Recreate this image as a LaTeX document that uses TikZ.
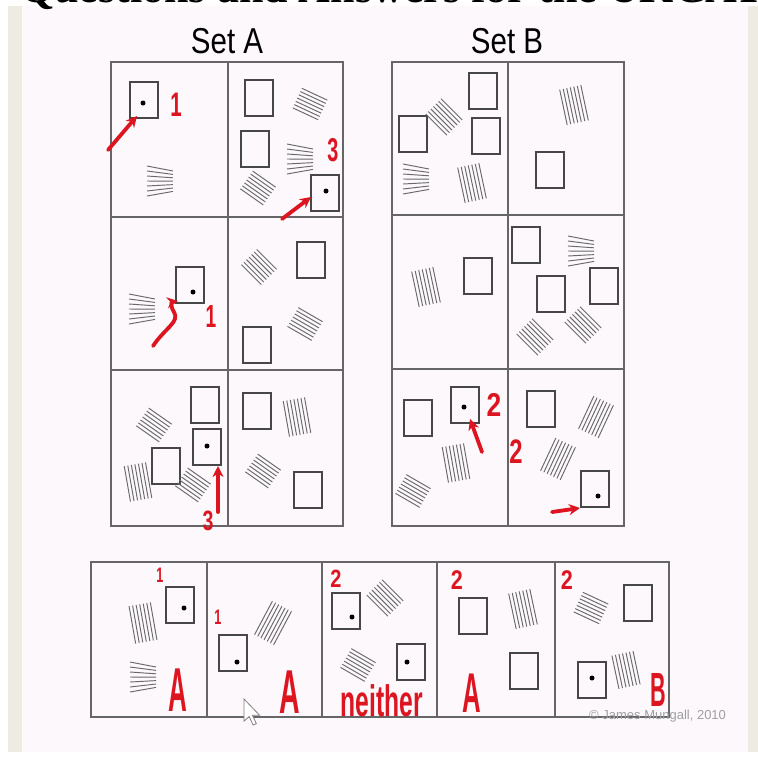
\documentclass[tikz,border=0pt]{standalone}
\usepackage{fontspec}
\usepackage{graphicx}
\setmainfont{Liberation Sans}
\newfontfamily\setfont[FakeStretch=0.82]{Liberation Sans}
\newfontfamily\headfont{Liberation Serif}
\newfontfamily\inkfont{Liberation Sans}
\usetikzlibrary{arrows.meta}
\definecolor{frame}{HTML}{666666}
\definecolor{ink}{HTML}{DD1520}
\definecolor{paper}{HTML}{FCF8FC}
\definecolor{band}{HTML}{EEEBE3}
\definecolor{hatchgray}{HTML}{6A6A6A}
\tikzset{
  panel/.style={draw=frame, line width=1.8pt},
  card/.style={draw=black!72, line width=1.5pt},
  hatchline/.style={draw=hatchgray, line width=0.95pt},
  pen/.style={draw=ink, line width=3.8pt, line cap=round},
  penarrow/.style={pen, -{Stealth[length=11pt,width=11pt]}},
  inklabel/.style={text=ink, inner sep=0pt}
}
% hatch: centre x, centre y, angle, half length
\newcommand{\hatch}[4]{%
  \begin{scope}[shift={(#1,#2)},rotate=#3]
    \foreach \k in {-3,...,3} \draw[hatchline] (-#4,\k*3.6) -- (#4,\k*3.6);
  \end{scope}}
% fan of nearly level strokes
\newcommand{\fan}[2]{%
  \begin{scope}[shift={(#1,#2)}]
    \foreach \k in {0,...,6} \draw[hatchline] (-13,-15+5*\k) -- (13,-10+3.4*\k);
  \end{scope}}
\newcommand{\inksize}[1]{\inkfont\bfseries\fontsize{#1}{#1}\selectfont}
\begin{document}
\begin{tikzpicture}[x=1pt,y=-1pt]
  \useasboundingbox (0,0) rectangle (758,756);
  \fill[white] (0,0) rectangle (758,756);
  \fill[band] (8,6) rectangle (758,752);
  \fill[paper] (22,6) rectangle (748,752);
  \node[anchor=base west, inner sep=0pt, font=\headfont\bfseries\fontsize{44}{44}\selectfont] (head) at (20,2) {Questions and Answers for the UKCAT};

  % set titles
  \node[anchor=base, inner sep=0pt, font=\setfont\fontsize{36}{36}\selectfont] (titleA) at (227,53) {Set A};
  \node[anchor=base, inner sep=0pt, font=\setfont\fontsize{36}{36}\selectfont] (titleB) at (507,53) {Set B};

  % frames
  \draw[panel] (111,62) rectangle (343,526);
  \draw[panel] (228,62) -- (228,526);
  \foreach \y in {217,370} \draw[panel] (111,\y) -- (343,\y);
  \draw[panel] (392,62) rectangle (624,526);
  \draw[panel] (508,62) -- (508,526);
  \foreach \y in {215,369} \draw[panel] (392,\y) -- (624,\y);
  \draw[panel] (91,562) rectangle (669,717);
  \foreach \x in {207,322,437,555} \draw[panel] (\x,562) -- (\x,717);

  % squares
  \foreach \a/\b in {130/82,245/80,241/131,311/175,176/267,297/242,243/327,191/387,193/429,152/448,243/393,294/472,
    469/73,399/116,472/118,536/152,464/258,512/227,537/276,590/268,404/400,451/387,527/391,581/471,
    166/587,219/635,332/593,397/644,459/598,510/653,624/585,578/662}
    \draw[card] (\a,\b) rectangle ++(28,36);
  \foreach \a/\b in {143/103,326/191,193/292,207/446,464/407,598/496,184/608,237/662,352/617,407/662,592/678}
    \fill (\a,\b) circle (2.5);

  % stripes, set A
  \fan{160}{181}
  \hatch{310}{104}{-25}{14}
  \fan{300}{159}
  \hatch{258}{188}{-35}{14}
  \fan{142}{309}
  \hatch{259}{267}{-45}{14}
  \hatch{305}{324}{-30}{14}
  \hatch{154}{425}{-35}{14}
  \hatch{138}{482}{-80}{18}
  \hatch{193}{485}{-35}{14}
  \hatch{297}{417}{-80}{18}
  \hatch{263}{471}{-35}{14}
  % stripes, set B
  \hatch{444}{117}{-45}{15}
  \fan{416}{179}
  \hatch{472}{183}{-78}{18}
  \hatch{574}{105}{-78}{18}
  \hatch{426}{287}{-78}{18}
  \fan{581}{251}
  \hatch{535}{337}{-45}{15}
  \hatch{583}{325}{-45}{15}
  \hatch{456}{463}{-80}{18}
  \hatch{413}{491}{-30}{14}
  \hatch{596}{417}{65}{18}
  \hatch{558}{459}{65}{18}
  % stripes, test row
  \hatch{143}{623}{-80}{19}
  \fan{143}{677}
  \hatch{273}{623}{62}{19}
  \hatch{385}{598}{-45}{15}
  \hatch{358}{665}{-30}{14}
  \hatch{523}{609}{-78}{18}
  \hatch{591}{608}{-25}{14}
  \hatch{626}{670}{-78}{17}

  % red pen arrows
  \draw[penarrow] (108,150) -- (137,116);
  \draw[penarrow] (282,219) -- (311,197);
  \draw[penarrow] (153,346) .. controls (165,328) and (180,322) .. (174,312) .. controls (170,306) and (172,302) .. (178,301);
  \draw[penarrow] (218,512) -- (218,466);
  \draw[penarrow] (482,452) -- (470,419);
  \draw[penarrow] (552,512) -- (580,508);

  % red pen numbers
  \node[inklabel, font=\inksize{34}] (a1) at (176,105) {\scalebox{0.6}[1]{1}};
  \node[inklabel, font=\inksize{33}] (a2) at (333,150) {\scalebox{0.6}[1]{3}};
  \node[inklabel, font=\inksize{32}] (a3) at (211,316) {\scalebox{0.6}[1]{1}};
  \node[inklabel, font=\inksize{28}] (a6) at (208,521) {\scalebox{0.7}[1]{3}};
  \node[inklabel, font=\inksize{33}] (b5) at (494,405) {\scalebox{0.8}[1]{2}};
  \node[inklabel, font=\inksize{34}] (b6) at (516,452) {\scalebox{0.7}[1]{2}};
  \node[inklabel, font=\inksize{21}] (t1) at (160,575) {\scalebox{0.6}[1]{1}};
  \node[inklabel, font=\inksize{21}] (t2) at (218,617) {\scalebox{0.6}[1]{1}};
  \node[inklabel, font=\inksize{25}] (t3) at (336,579) {\scalebox{0.8}[1]{2}};
  \node[inklabel, font=\inksize{27}] (t4) at (457,580) {\scalebox{0.8}[1]{2}};
  \node[inklabel, font=\inksize{27}] (t5) at (567,580) {\scalebox{0.8}[1]{2}};

  % red pen answers
  \node[inklabel, font=\inksize{62}] (ans1) at (178,690) {\scalebox{0.42}[1]{A}};
  \node[inklabel, font=\inksize{62}] (ans2) at (290,692) {\scalebox{0.46}[1]{A}};
  \node[inklabel, anchor=base, font=\inksize{44}] (ans3) at (382,716) {\scalebox{0.56}[1]{neither}};
  \node[inklabel, font=\inksize{56}] (ans4) at (472,693) {\scalebox{0.46}[1]{A}};
  \node[inklabel, font=\inksize{48}] (ans5) at (658,690) {\scalebox{0.45}[1]{B}};

  % mouse pointer
  \filldraw[fill=white, draw=gray, line width=0.8pt, shift={(244,699)}, scale=1.3]
    (0,0) -- (0,17) -- (4,13.5) -- (7,20) -- (9.5,19) -- (6.5,12.5) -- (12,12.5) -- cycle;

  \node[anchor=west, inner sep=0pt, text=gray!75, font=\fontsize{13}{13}\selectfont] (credit) at (589,716) {© James Mungall, 2010};
\end{tikzpicture}
\end{document}
